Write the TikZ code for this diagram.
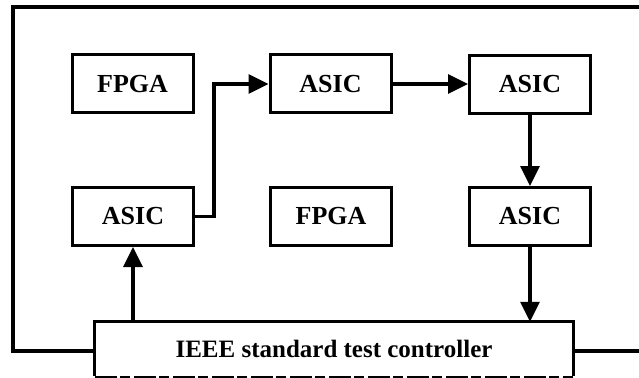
\documentclass[tikz,border=0pt]{standalone}
\usepackage{fontspec}
\setmainfont{Liberation Serif}
\usetikzlibrary{arrows.meta,calc}
\begin{document}
\begin{tikzpicture}[x=1pt,y=-1pt,
  blk/.style={draw,line width=3pt,minimum width=121pt,minimum height=58pt,inner sep=0pt,
    font=\fontsize{26}{30}\selectfont\bfseries},
  wire/.style={line width=3.2pt},
  arr/.style={wire,-{Triangle[length=20pt,width=19pt]}}]
\useasboundingbox (0,0) rectangle (639,377);
\node[blk] (fpga1) at (132.5,84) {FPGA};
\node[blk] (asic1) at (330.5,84) {ASIC};
\node[blk] (asic2) at (530,84.5) {ASIC};
\node[blk] (asic3) at (133,216.5) {ASIC};
\node[blk] (fpga2) at (331,216.5) {FPGA};
\node[blk] (asic4) at (530,216.5) {ASIC};
\node[minimum width=478pt,minimum height=54pt,inner sep=0pt,
  font=\fontsize{25}{30}\selectfont\bfseries] (ctrl) at (334,349) {IEEE standard test controller};
\draw[line width=3pt] (ctrl.south west) -- (ctrl.north west) -- (ctrl.north east) -- (ctrl.south east);
\draw[line width=2pt,dash pattern=on 22pt off 3pt on 10pt off 4pt] ([yshift=-1pt]ctrl.south west) -- ([yshift=-1pt]ctrl.south east);
\coordinate (tl) at (13,7);
\coordinate (tr) at (639,7);
\coordinate (rr) at (639,351);
\coordinate (ll) at (13,351);
\draw[arr] (asic3.east) -- ++(19,0) |- (asic1.west);
\draw[arr] (asic1.east) -- (asic1.east -| asic2.west);
\draw[arr] (asic2.south) -- (asic4.north);
\draw[arr] (asic4.south) -- (asic4.south |- ctrl.north);
\draw[arr] (asic3.south |- ctrl.north) -- (asic3.south);
\draw[wire] (ctrl.west |- ll) -- (ll) -- (tl) -- (tr);
\draw[wire] (ctrl.east |- rr) -- (rr);
\end{tikzpicture}
\end{document}
